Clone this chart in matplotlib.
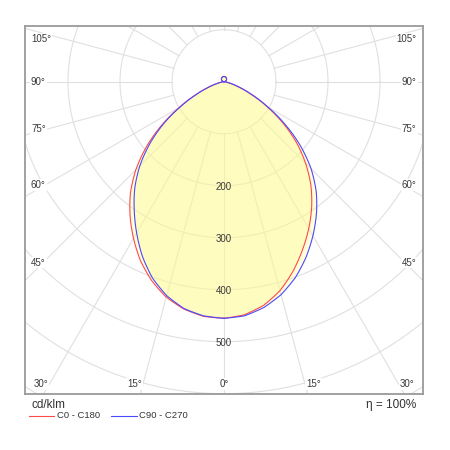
import numpy as np
import matplotlib
matplotlib.use("Agg")
import matplotlib.pyplot as plt
from matplotlib.lines import Line2D

plt.rcParams['font.family'] = ['Liberation Sans', 'DejaVu Sans']

# ---- data (cd/klm) ----
gamma = [0, 5, 10, 15, 20, 25, 30, 35, 40, 45, 50, 55, 60, 65, 70, 75, 80, 85, 90,
         95, 100, 105, 110, 115, 120, 125, 130, 135, 140, 145, 150, 155, 160, 165, 170, 175, 180]
upper = [0.9, 1.7, 2.6, 3.4, 4.2, 5.0, 5.7, 6.4, 7.0, 7.7, 8.2, 8.7, 9.1, 9.4, 9.7, 9.8, 10.0, 10.0]
c0 = [455, 450, 437, 416, 388, 357, 326, 294, 260, 222, 182, 138, 95, 57, 30, 13, 4.5, 1, 0] + upper
c180 = [455, 453, 444, 429, 407, 380, 348, 315, 280, 240, 195, 147, 100, 61, 33, 15, 5.5, 1.3, 0] + upper
c90 = [455, 452, 441, 424, 401, 373, 342, 310, 276, 237, 192, 144, 97, 60, 32, 14.5, 5, 1.2, 0] + upper
c270 = [455, 452, 443, 426, 402, 371, 336, 301, 267, 229, 187, 143, 97.5, 60, 32, 15, 5.4, 1.3, 0] + upper
ring_values = [100, 200, 300, 400, 500, 600, 700]
ring_labels = ["200", "300", "400", "500"]
angle_side = [105, 90, 75, 60, 45]
angle_bottom = [30, 15, 0]
unit_label = "cd/klm"
eta_label = "η = 100%"
legend_names = ["C0 - C180", "C90 - C270"]

# ---- layout ----
W = H = 450
S = 0.52  # px per cd/klm
cx, cy = 224.0, 81.7
bx0, bx1, by0, by1 = 25, 423, 26, 394

fig = plt.figure(figsize=(4.5, 4.5), dpi=100)
ax = fig.add_axes([bx0 / W, 1 - by1 / H, (bx1 - bx0) / W, (by1 - by0) / H])
ax.set_xlim(-(cx - bx0) / S, (bx1 - cx) / S)
ax.set_ylim(-(by1 - cy) / S, (cy - by0) / S)
ax.set_xticks([]); ax.set_yticks([])
for sp in ax.spines.values():
    sp.set_color('#9a9a9a'); sp.set_linewidth(1.3)

grid_c = '#e0e0e0'
t = np.linspace(0, 2 * np.pi, 400)
for r in ring_values:
    ax.plot(r * np.cos(t), r * np.sin(t), color=grid_c, lw=0.8, zorder=1)
for a in range(0, 360, 15):
    ar = np.radians(a)
    ax.plot([100 * np.sin(ar), 900 * np.sin(ar)], [-100 * np.cos(ar), -900 * np.cos(ar)],
            color=grid_c, lw=0.8, zorder=1)

# polar rendering: segments between measured angles are drawn as polar arcs
g_fine = np.linspace(0, 180, 721)
gf = np.radians(g_fine)

def plane(right, left):
    right = np.interp(g_fine, gamma, right)
    left = np.interp(g_fine, gamma, left)
    x = np.concatenate([right * np.sin(gf), -(left * np.sin(gf))[::-1]])
    y = np.concatenate([-right * np.cos(gf), -(left * np.cos(gf))[::-1]])
    return x, y

xa, ya = plane(c0, c180)
xb, yb = plane(c90, c270)
fillc = (1.0, 0.985, 0.55)
ax.fill(xa, ya, color=fillc, alpha=0.32, lw=0, zorder=2)
ax.fill(xb, yb, color=fillc, alpha=0.32, lw=0, zorder=2)
ax.plot(np.append(xa, xa[0]), np.append(ya, ya[0]), color='#ff4a4a', lw=0.8, zorder=4)
ax.plot(np.append(xb, xb[0]), np.append(yb, yb[0]), color='#4a4aff', lw=0.8, zorder=4)

tc = '#3a3a3a'
for lab in ring_labels:
    ax.text(0, -float(lab) - 2, lab, ha='center', va='center', fontsize=7, color=tc, zorder=5)

bb = dict(facecolor='white', edgecolor='none', pad=0.6)
xin = (cx - 34) / S
xl = -(cx - 31) / S
xr = (416.7 - cx) / S
ytop = (cy - 39) / S
for a in angle_side:
    ar = np.radians(a)
    y = -xin / np.sin(ar) * np.cos(ar) + 25 * np.cos(ar)
    y = min(y, ytop)
    ax.text(xl, y, f"{a}°", ha='left', va='center', fontsize=7, color=tc, bbox=bb, zorder=6)
    ax.text(xr, y, f"{a}°", ha='right', va='center', fontsize=7, color=tc, bbox=bb, zorder=6)
yb_lab = -(384.3 - cy) / S
for a in angle_bottom:
    ar = np.radians(a)
    x = -yb_lab * np.tan(ar) + (16 if a > 0 else 0)
    ax.text(-x, yb_lab, f"{a}°", ha='center', va='center', fontsize=7, color=tc, bbox=bb, zorder=6)
    if a > 0:
        ax.text(x, yb_lab, f"{a}°", ha='center', va='center', fontsize=7, color=tc, bbox=bb, zorder=6)

fig.text(31 / W, 1 - 405 / H, unit_label, ha='left', va='center', fontsize=8.5, color='#333333')
fig.text(416.7 / W, 1 - 405 / H, eta_label, ha='right', va='center', fontsize=8.5, color='#333333')
ly = 1 - 416 / H
fig.add_artist(Line2D([29 / W, 54 / W], [ly, ly], color='#ff4a4a', lw=0.8))
fig.text(57 / W, ly, legend_names[0], ha='left', va='center', fontsize=6.8, color='#333333')
fig.add_artist(Line2D([111 / W, 137 / W], [ly, ly], color='#4a4aff', lw=0.8))
fig.text(139 / W, ly, legend_names[1], ha='left', va='center', fontsize=6.8, color='#333333')

fig.savefig("out.png", dpi=100)
